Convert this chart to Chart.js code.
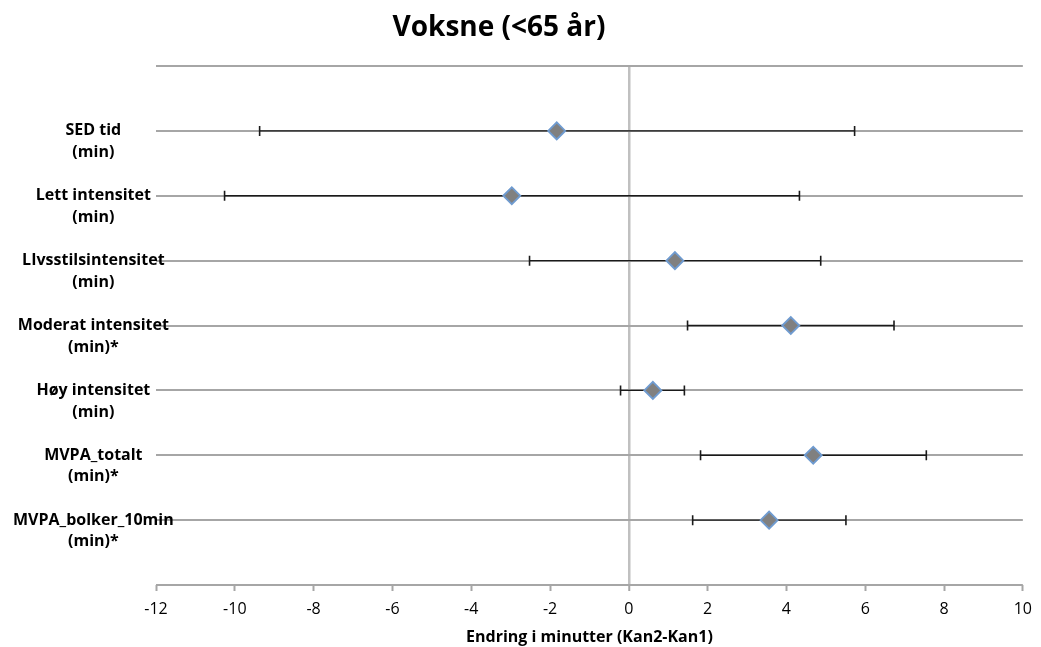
<!DOCTYPE html>
<html lang="no">
<head>
    <meta charset="UTF-8">
    <title>Voksne (&lt;65 år)</title>
    <script src="https://cdn.jsdelivr.net/npm/chart.js@4.4.0/dist/chart.umd.min.js"></script>
    <style>
        html, body { margin: 0; padding: 0; background: #fff; }
        #wrap { position: relative; width: 1041px; height: 647px; }
        #title {
            position: absolute; left: 0; top: 6px; width: 998px;
            text-align: center; line-height: 38px;
            font: bold 28px "Open Sans", sans-serif; color: #000;
        }
    </style>
</head>
<body>
    <div id="wrap">
        <div id="title">Voksne (&lt;65 år)</div>
        <canvas id="chart" width="1041" height="647"></canvas>
    </div>

    <script>
        // rader, ovenfra og ned
        const rowLabels = [
            ['SED tid', '(min)'],
            ['Lett intensitet', '(min)'],
            ['LIvsstilsintensitet', '(min)'],
            ['Moderat intensitet', '(min)*'],
            ['Høy intensitet', '(min)'],
            ['MVPA_totalt', '(min)*'],
            ['MVPA_bolker_10min', '(min)*']
        ];
        const means = [-1.83, -2.97, 1.17, 4.11, 0.61, 4.68, 3.56];
        const lower = [-9.37, -10.26, -2.52, 1.49, -0.21, 1.82, 1.62];
        const upper = [5.73, 4.33, 4.87, 6.73, 1.41, 7.55, 5.51];
        const xTicks = [-12, -10, -8, -6, -4, -2, 0, 2, 4, 6, 8, 10];
        const xTitle = 'Endring i minutter (Kan2-Kan1)';

        const n = rowLabels.length;
        const rowY = i => n - i; // 7 .. 1

        Chart.defaults.font.family = '"Open Sans", sans-serif';
        Chart.defaults.color = '#000';

        const whiskers = means.map((m, i) => ({
            type: 'line',
            data: [{ x: lower[i], y: rowY(i) }, { x: upper[i], y: rowY(i) }],
            borderColor: '#1a1a1a',
            borderWidth: 1.4,
            pointStyle: 'line',
            rotation: 90,
            pointRadius: 5,
            pointHoverRadius: 5,
            pointBorderColor: '#1a1a1a',
            pointBorderWidth: 1.6,
            order: 2
        }));

        const points = {
            type: 'scatter',
            data: means.map((m, i) => ({ x: m, y: rowY(i) })),
            pointStyle: 'rectRot',
            pointRadius: 8.5,
            pointHoverRadius: 8.5,
            backgroundColor: '#808080',
            borderColor: '#6f9bd0',
            borderWidth: 1.8,
            order: 1
        };

        new Chart(document.getElementById('chart'), {
            type: 'scatter',
            data: { datasets: [...whiskers, points] },
            options: {
                responsive: false,
                animation: false,
                layout: { padding: { top: 66, right: 14, left: 0, bottom: 0 } },
                plugins: {
                    legend: { display: false },
                    tooltip: { enabled: false }
                },
                scales: {
                    x: {
                        type: 'linear',
                        min: xTicks[0],
                        max: xTicks[xTicks.length - 1],
                        afterBuildTicks: s => { s.ticks = xTicks.map(v => ({ value: v })); },
                        afterFit: s => { s.height = 62; },
                        border: { display: false },
                        grid: {
                            drawOnChartArea: true,
                            color: c => c.tick && c.tick.value === 0 ? '#c0c0c0' : 'rgba(0,0,0,0)',
                            lineWidth: c => c.tick && c.tick.value === 0 ? 2.5 : 1,
                            tickColor: '#a6a6a6',
                            tickLength: 6,
                            tickWidth: 2
                        },
                        ticks: { padding: 9, font: { size: 16 } },
                        title: {
                            display: true,
                            text: xTitle,
                            font: { size: 16, weight: 'bold' },
                            padding: { top: 0, bottom: 0 }
                        }
                    },
                    y: {
                        type: 'linear',
                        min: 0,
                        max: n + 1,
                        afterFit: s => { s.width = 156; },
                        border: { display: false },
                        grid: {
                            color: '#a6a6a6',
                            lineWidth: 2,
                            drawTicks: false
                        },
                        ticks: {
                            stepSize: 1,
                            autoSkip: false,
                            mirror: true,        // no clipping at the plot edge
                            crossAlign: 'center',
                            padding: -143,
                            font: { size: 16, weight: 'bold', lineHeight: 1.35 },
                            callback: v => {
                                const i = n - v;
                                return (i >= 0 && i < n) ? ['', ...rowLabels[i]] : '';
                            }
                        }
                    }
                }
            }
        });
    </script>
</body>
</html>
